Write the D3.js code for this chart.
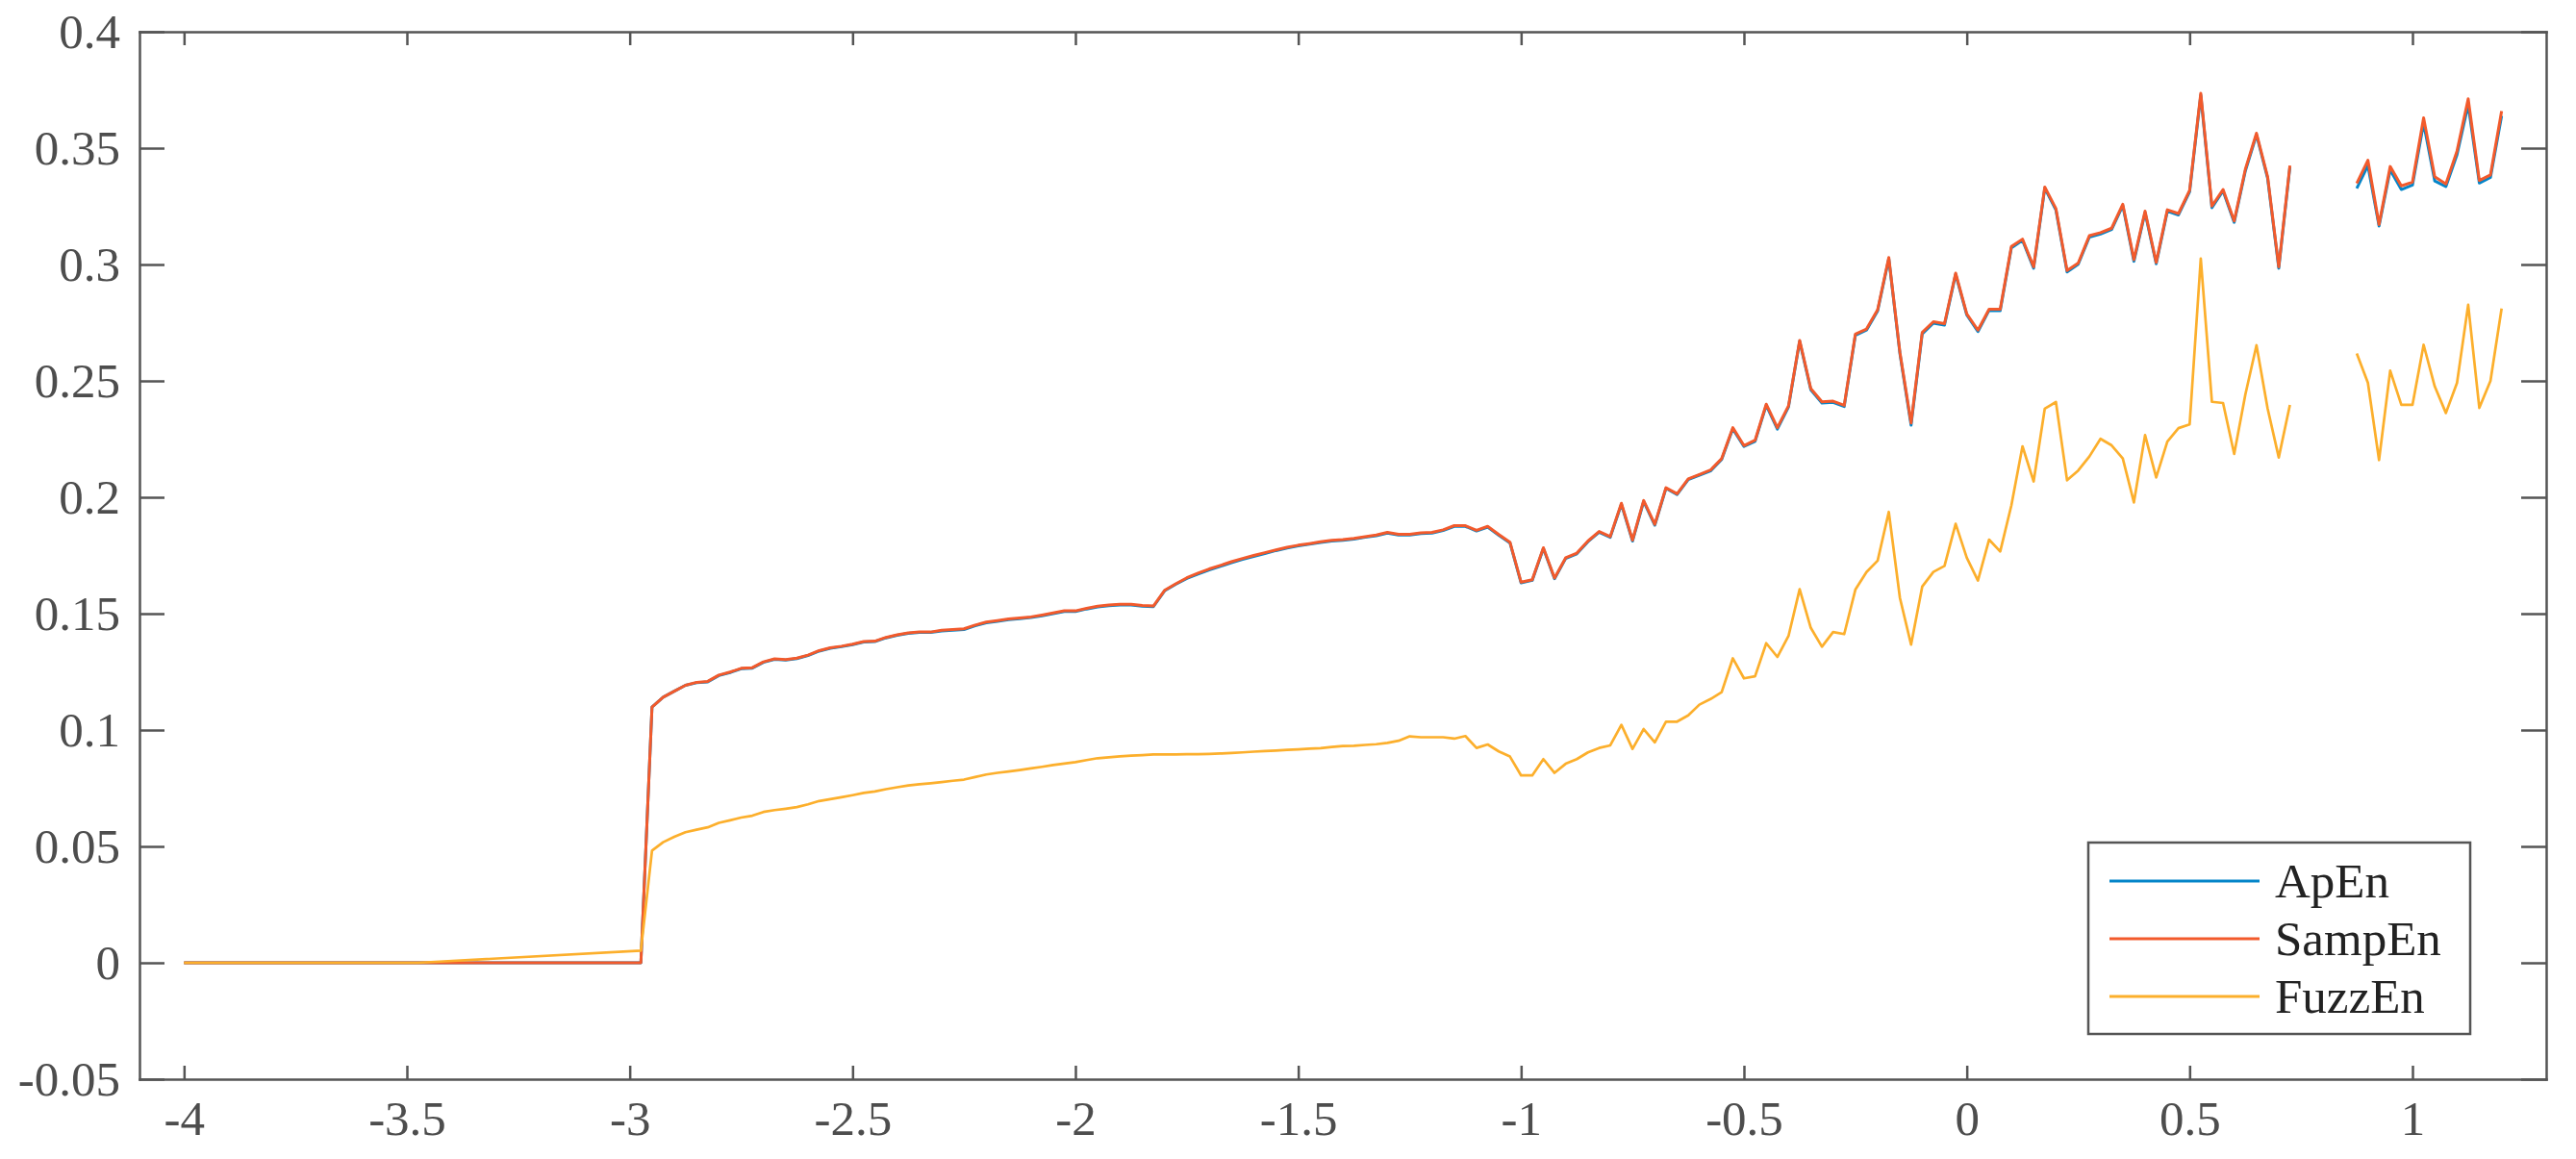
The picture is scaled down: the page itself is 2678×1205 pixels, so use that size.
<!DOCTYPE html>
<html>
<head>
<meta charset="utf-8">
<script src="https://cdn.jsdelivr.net/npm/d3@7"></script>
<style>
  html, body { margin: 0; padding: 0; background: #fff; }
  svg { display: block; }
  .axis text { font-family: "Liberation Serif", "DejaVu Serif", serif; font-size: 51px; fill: #4d4d4d; }
  .axis path, .axis line { stroke: #555; stroke-width: 2.5px; }
</style>
</head>
<body>
<div id="chart"></div>
<script>
/************************************************************
 *
 * DATA
 *
 ************************************************************/

var xVals = [-4, -3.475, -2.975,
  -2.95, -2.925, -2.9, -2.875, -2.85, -2.825, -2.8, -2.775, -2.75, -2.725,
  -2.7, -2.675, -2.65, -2.625, -2.6, -2.575, -2.55, -2.525, -2.5, -2.475,
  -2.45, -2.425, -2.4, -2.375, -2.35, -2.325, -2.3, -2.275, -2.25, -2.225,
  -2.2, -2.175, -2.15, -2.125, -2.1, -2.075, -2.05, -2.025, -2, -1.975,
  -1.95, -1.925, -1.9, -1.875, -1.85, -1.825, -1.8, -1.775, -1.75, -1.725,
  -1.7, -1.675, -1.65, -1.625, -1.6, -1.575, -1.55, -1.525, -1.5, -1.475,
  -1.45, -1.425, -1.4, -1.375, -1.35, -1.325, -1.3, -1.275, -1.25, -1.225,
  -1.2, -1.175, -1.15, -1.125, -1.1, -1.075, -1.05, -1.025, -1, -0.975,
  -0.95, -0.925, -0.9, -0.875, -0.85, -0.825, -0.8, -0.775, -0.75, -0.725,
  -0.7, -0.675, -0.65, -0.625, -0.6, -0.575, -0.55, -0.525, -0.5, -0.475,
  -0.45, -0.425, -0.4, -0.375, -0.35, -0.325, -0.3, -0.275, -0.25, -0.225,
  -0.2, -0.175, -0.15, -0.125, -0.1, -0.075, -0.05, -0.025, 0, 0.025,
  0.05, 0.075, 0.1, 0.125, 0.15, 0.175, 0.2, 0.225, 0.25, 0.275,
  0.3, 0.325, 0.35, 0.375, 0.4, 0.425, 0.45, 0.475, 0.5, 0.525,
  0.55, 0.575, 0.6, 0.625, 0.65, 0.675, 0.7, 0.725, 0.75, 0.775,
  0.8, 0.825, 0.85, 0.875, 0.9, 0.925, 0.95, 0.975, 1, 1.025,
  1.05, 1.075, 1.1, 1.125, 1.15, 1.175, 1.2];

var apEn = [0, 0, 0,
  0.1099, 0.1141, 0.1167, 0.1192, 0.1203, 0.1207, 0.1234, 0.1247, 0.1263, 0.1266,
  0.1291, 0.1304, 0.1301, 0.1307, 0.1320, 0.1339, 0.1351, 0.1358, 0.1367, 0.1378,
  0.1380, 0.1396, 0.1407, 0.1415, 0.1419, 0.1419, 0.1426, 0.1429, 0.1432, 0.1448,
  0.1461, 0.1467, 0.1474, 0.1478, 0.1483, 0.1491, 0.1500, 0.1509, 0.1509, 0.1520,
  0.1529, 0.1534, 0.1537, 0.1537, 0.1532, 0.1530, 0.1598, 0.1626, 0.1651, 0.1670,
  0.1688, 0.1703, 0.1719, 0.1733, 0.1746, 0.1758, 0.1771, 0.1782, 0.1791, 0.1798,
  0.1806, 0.1812, 0.1815, 0.1820, 0.1828, 0.1835, 0.1846, 0.1838, 0.1838, 0.1844,
  0.1846, 0.1857, 0.1875, 0.1875, 0.1855, 0.1872, 0.1837, 0.1804, 0.1632, 0.1643,
  0.1780, 0.1650, 0.1737, 0.1757, 0.1809, 0.1850, 0.1828, 0.1970, 0.1812, 0.1982,
  0.1880, 0.2038, 0.2012, 0.2076, 0.2095, 0.2113, 0.2162, 0.2294, 0.2218, 0.2240,
  0.2395, 0.2293, 0.2388, 0.2670, 0.2462, 0.2405, 0.2408, 0.2390, 0.2696, 0.2718,
  0.2801, 0.3025, 0.2617, 0.2310, 0.2702, 0.2748, 0.2740, 0.2958, 0.2783, 0.2712,
  0.2803, 0.2802, 0.3071, 0.3104, 0.2984, 0.3328, 0.3234, 0.2968, 0.3001, 0.3118,
  0.3131, 0.3150, 0.3253, 0.3014, 0.3223, 0.3003, 0.3229, 0.3213, 0.3313, 0.3728,
  0.3244, 0.3316, 0.3181, 0.3402, 0.3557, 0.3370, 0.2984, 0.3419, null, null,
  null, null, null, 0.3327, 0.3425, 0.3165, 0.3406, 0.3322, 0.3341, 0.3607,
  0.3359, 0.3335, 0.3472, 0.3686, 0.3350, 0.3374, 0.3638];

var sampEn = [0, 0, 0,
  0.1099, 0.1141, 0.1167, 0.1192, 0.1205, 0.1209, 0.1236, 0.1249, 0.1265, 0.1268,
  0.1293, 0.1306, 0.1303, 0.1309, 0.1322, 0.1341, 0.1353, 0.1360, 0.1369, 0.1380,
  0.1382, 0.1398, 0.1409, 0.1417, 0.1421, 0.1421, 0.1429, 0.1432, 0.1435, 0.1451,
  0.1464, 0.1470, 0.1477, 0.1481, 0.1486, 0.1494, 0.1503, 0.1512, 0.1512, 0.1523,
  0.1532, 0.1537, 0.1540, 0.1540, 0.1535, 0.1533, 0.1600, 0.1628, 0.1654, 0.1674,
  0.1692, 0.1707, 0.1723, 0.1737, 0.1750, 0.1762, 0.1774, 0.1785, 0.1794, 0.1801,
  0.1809, 0.1815, 0.1818, 0.1823, 0.1831, 0.1838, 0.1849, 0.1841, 0.1841, 0.1847,
  0.1849, 0.1860, 0.1878, 0.1878, 0.1858, 0.1875, 0.1840, 0.1807, 0.1635, 0.1646,
  0.1783, 0.1653, 0.1740, 0.1760, 0.1812, 0.1853, 0.1831, 0.1974, 0.1816, 0.1986,
  0.1884, 0.2041, 0.2015, 0.2079, 0.2098, 0.2117, 0.2166, 0.2299, 0.2222, 0.2245,
  0.2400, 0.2299, 0.2393, 0.2674, 0.2467, 0.2410, 0.2413, 0.2395, 0.2701, 0.2723,
  0.2806, 0.3030, 0.2622, 0.2319, 0.2708, 0.2754, 0.2746, 0.2963, 0.2788, 0.2718,
  0.2808, 0.2808, 0.3077, 0.3109, 0.2990, 0.3333, 0.3240, 0.2974, 0.3006, 0.3124,
  0.3137, 0.3156, 0.3259, 0.3021, 0.3229, 0.3009, 0.3235, 0.3219, 0.3319, 0.3736,
  0.3251, 0.3322, 0.3187, 0.3409, 0.3564, 0.3377, 0.2990, 0.3425, null, null,
  null, null, null, 0.3349, 0.3448, 0.3172, 0.3421, 0.3338, 0.3354, 0.3630,
  0.3377, 0.3346, 0.3488, 0.3712, 0.3361, 0.3385, 0.3659];

var fuzzEn = [0, 0, 0.0052,
  0.0482, 0.0518, 0.0541, 0.0561, 0.0572, 0.0582, 0.0601, 0.0612, 0.0624, 0.0632,
  0.0648, 0.0656, 0.0662, 0.0669, 0.0681, 0.0695, 0.0703, 0.0711, 0.0720, 0.0730,
  0.0736, 0.0746, 0.0754, 0.0762, 0.0767, 0.0771, 0.0776, 0.0782, 0.0787, 0.0798,
  0.0809, 0.0816, 0.0822, 0.0828, 0.0835, 0.0842, 0.0850, 0.0856, 0.0862, 0.0871,
  0.0879, 0.0883, 0.0887, 0.0890, 0.0892, 0.0895, 0.0895, 0.0895, 0.0896, 0.0896,
  0.0897, 0.0899, 0.0901, 0.0904, 0.0907, 0.0910, 0.0912, 0.0915, 0.0917, 0.0920,
  0.0922, 0.0927, 0.0931, 0.0932, 0.0936, 0.0939, 0.0945, 0.0954, 0.0973, 0.0969,
  0.0969, 0.0969, 0.0963, 0.0974, 0.0923, 0.0938, 0.0908, 0.0886, 0.0805, 0.0805,
  0.0875, 0.0816, 0.0855, 0.0875, 0.0904, 0.0923, 0.0934, 0.1022, 0.0919, 0.1004,
  0.0947, 0.1036, 0.1036, 0.1063, 0.1109, 0.1133, 0.1163, 0.1308, 0.1222, 0.1231,
  0.1373, 0.1314, 0.1404, 0.1605, 0.1439, 0.1358, 0.1421, 0.1412, 0.1603, 0.1679,
  0.1728, 0.1937, 0.1567, 0.1367, 0.1616, 0.1679, 0.1705, 0.1886, 0.1740, 0.1642,
  0.1818, 0.1767, 0.1965, 0.2219, 0.2068, 0.2381, 0.2409, 0.2073, 0.2115, 0.2175,
  0.2251, 0.2223, 0.2167, 0.1978, 0.2267, 0.2085, 0.2239, 0.2297, 0.2313, 0.3025,
  0.2410, 0.2405, 0.2186, 0.2441, 0.2653, 0.2381, 0.2171, 0.2397, null, null,
  null, null, null, 0.2618, 0.2492, 0.2160, 0.2544, 0.2397, 0.2397, 0.2655,
  0.2476, 0.2362, 0.2492, 0.2827, 0.2384, 0.2500, 0.2811];

var seriesNames = ["ApEn", "SampEn", "FuzzEn"];
var seriesColors = ["#0485C9", "#F25A2C", "#FCAF2C"];
var xTicks = [-4, -3.5, -3, -2.5, -2, -1.5, -1, -0.5, 0, 0.5, 1];
var yTicks = [-0.05, 0, 0.05, 0.1, 0.15, 0.2, 0.25, 0.3, 0.35, 0.4];

/************************************************************
 *
 * CHART
 *
 ************************************************************/

var width = 2678,
    height = 1205,
    plotLeft = 145, plotRight = 2647, plotTop = 33, plotBottom = 1122;

var svg = d3.select("#chart").append("svg")
    .attr("width", width)
    .attr("height", height);

var x = d3.scaleLinear().domain([-4.1, 1.3]).range([plotLeft, plotRight]);
var y = d3.scaleLinear().domain([-0.05, 0.4]).range([plotBottom, plotTop]);

function fmt(d) { return String(d); }

// lines
var series = [apEn, sampEn, fuzzEn];
var widths = [3, 3, 2.7];

series.forEach(function(vals, s) {
  var pts = xVals.map(function(xv, i) { return [xv, vals[i]]; });
  var line = d3.line()
      .defined(function(d) { return d[1] !== null; })
      .x(function(d) { return x(d[0]); })
      .y(function(d) { return y(d[1]); });
  svg.append("path")
      .attr("d", line(pts))
      .style("fill", "none")
      .style("stroke", seriesColors[s])
      .style("stroke-width", widths[s] + "px")
      .style("stroke-linejoin", "round");
});

// axes (ticks pointing inwards, box on)
svg.append("g")
    .attr("class", "axis")
    .attr("transform", "translate(0," + plotBottom + ")")
    .call(d3.axisBottom(x).tickValues(xTicks).tickSizeInner(-14).tickSizeOuter(0).tickPadding(22).tickFormat(fmt));

svg.append("g")
    .attr("class", "axis")
    .attr("transform", "translate(0," + plotTop + ")")
    .call(d3.axisTop(x).tickValues(xTicks).tickSizeInner(-14).tickSizeOuter(0).tickFormat(""));

svg.append("g")
    .attr("class", "axis")
    .attr("transform", "translate(" + plotLeft + ",0)")
    .call(d3.axisLeft(y).tickValues(yTicks).tickSizeInner(-26).tickSizeOuter(0).tickPadding(20).tickFormat(fmt));

svg.append("g")
    .attr("class", "axis")
    .attr("transform", "translate(" + plotRight + ",0)")
    .call(d3.axisRight(y).tickValues(yTicks).tickSizeInner(-26).tickSizeOuter(0).tickFormat(""));

svg.selectAll(".axis .domain").style("stroke-linecap", "square");

// legend
var legend = svg.append("g")
    .attr("transform", "translate(2171,876)");

legend.append("rect")
    .attr("width", 397)
    .attr("height", 199)
    .style("fill", "#fff")
    .style("stroke", "#555")
    .style("stroke-width", "2.5px");

seriesNames.forEach(function(name, i) {
  var ly = 40 + i * 60;
  legend.append("line")
      .attr("x1", 22).attr("x2", 178)
      .attr("y1", ly).attr("y2", ly)
      .style("stroke", seriesColors[i])
      .style("stroke-width", "2.8px");
  legend.append("text")
      .attr("x", 194)
      .attr("y", ly + 17)
      .style("font-family", "'Liberation Serif', 'DejaVu Serif', serif")
      .style("font-size", "51px")
      .style("fill", "#222")
      .text(name);
});
</script>
</body>
</html>
